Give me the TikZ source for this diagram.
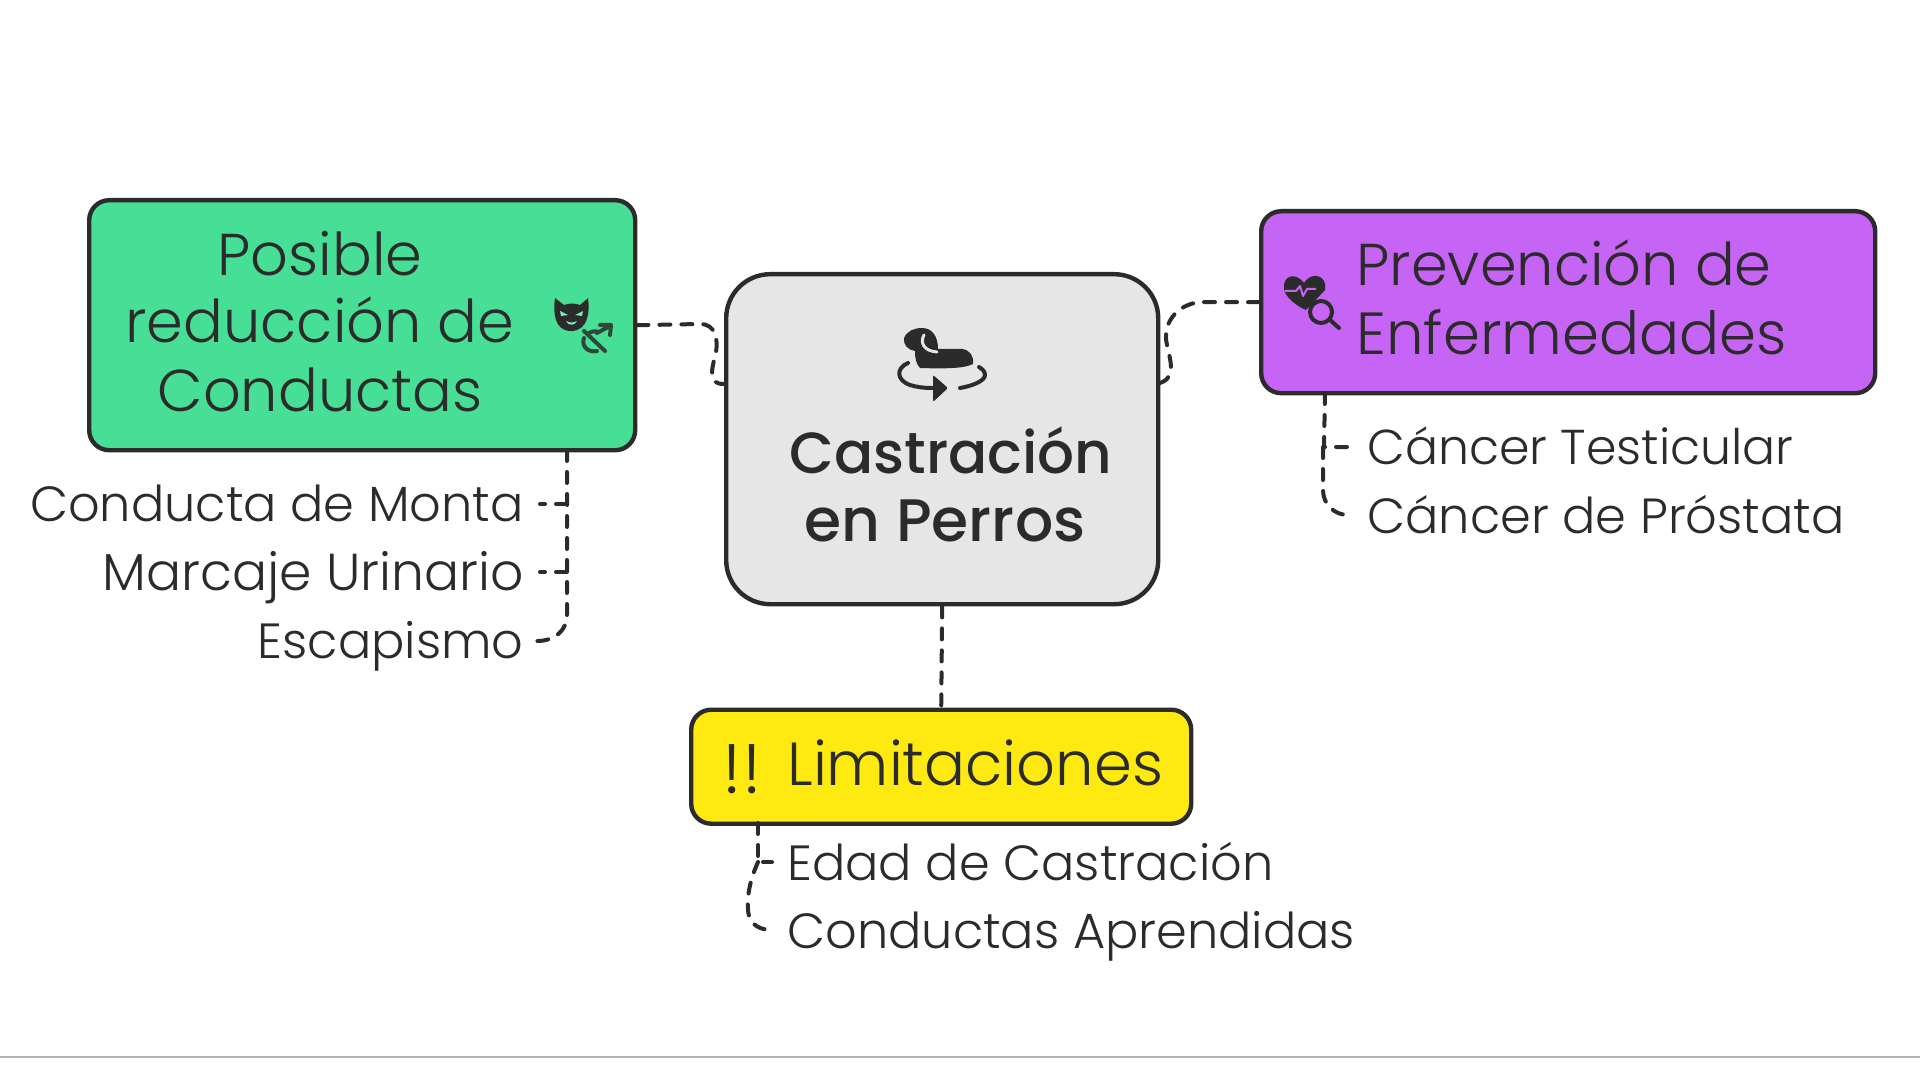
\documentclass[tikz,border=0pt]{standalone}
\usepackage{fontspec}
\setmainfont{Poppins}[UprightFont=* Light,BoldFont=* Medium]
\usetikzlibrary{calc}
\definecolor{ink}{HTML}{2B2B2B}
\definecolor{cgreen}{HTML}{47DF95}
\definecolor{cgrey}{HTML}{E6E6E6}
\definecolor{cpurple}{HTML}{C664F5}
\definecolor{cyellow}{HTML}{FEE911}
\tikzset{
  box/.style={draw=ink,line width=2.2pt,inner sep=0pt,anchor=north west},
  link/.style={draw=ink,line width=2pt,line cap=round,dash pattern=on 5.5pt off 5.5pt},
  big/.style={text=ink,font=\fontsize{29.5}{29.5}\selectfont,inner sep=0pt,anchor=base},
  small/.style={text=ink,font=\fontsize{24.7}{24.7}\selectfont,inner sep=0pt},
  iconline/.style={draw=ink,line width=2pt,line cap=round,line join=round},
}
\begin{document}
\begin{tikzpicture}[x=0.5pt,y=-0.5pt]
\useasboundingbox (0,0) rectangle (1920,1080);
\fill[white] (0,0) rectangle (1920,1080);
\draw[black!30,line width=0.6pt] (0,1057) -- (1920,1057);

\node[box,fill=cgreen,rounded corners=10pt,minimum width=273pt,minimum height=125pt] (green) at (87,198) {};
\node[box,fill=cgrey,rounded corners=22pt,minimum width=216pt,minimum height=165pt] (grey) at (724,272) {};
\node[box,fill=cpurple,rounded corners=10pt,minimum width=307pt,minimum height=91pt] (purple) at (1259,209) {};
\node[box,fill=cyellow,rounded corners=10pt,minimum width=250pt,minimum height=57pt] (yellow) at (689,707.5) {};

% texts
\node[big] (g1) at (320,275.5) {Posible};
\node[big] (g2) at (320,342.5) {reducción de};
\node[big] (g3) at (320,411) {Conductas};
\node[big,font=\fontsize{29}{29}\selectfont\bfseries] (c1) at (951,473) {Castración};
\node[big,font=\fontsize{30}{30}\selectfont\bfseries] (c2) at (945,541) {en Perros};
\node[big,anchor=base west] (p1) at (1356,286) {Prevención de};
\node[big,anchor=base west,font=\fontsize{29.7}{29.7}\selectfont] (p2) at (1356,355) {Enfermedades};
\node[big,anchor=base west,font=\fontsize{30.4}{30.4}\selectfont] (y1) at (787,785) {Limitaciones};
\node[big,font=\fontsize{35}{35}\selectfont] (y0) at (742,793) {!!};
\node[small,anchor=base east] (l1) at (524,521.5) {Conducta de Monta};
\node[small,anchor=base east,font=\fontsize{26}{26}\selectfont] (l2) at (524,590.5) {Marcaje Urinario};
\node[small,anchor=base east] (l3) at (524,658.5) {Escapismo};
\node[small,anchor=base west,font=\fontsize{24.5}{24.5}\selectfont] (r1) at (1367,464.5) {Cáncer Testicular};
\node[small,anchor=base west] (r2) at (1367,533) {Cáncer de Próstata};
\node[small,anchor=base west] (b1) at (787,880) {Edad de Castración};
\node[small,anchor=base west] (b2) at (787,948) {Conductas Aprendidas};

% connectors
\coordinate (ga) at (724,384);
\coordinate (gb) at (1156,384);
\coordinate (gtop) at (567,450);
\coordinate (ptop) at (1325,393);
\coordinate (ytop) at (758,823);
\coordinate (e1) at (540,504);
\coordinate (e2) at (540,572);
\coordinate (e3) at (537,641);
\coordinate (e4) at (1348,447);
\coordinate (e5) at (1348,515);
\coordinate (e6) at (772,862);
\coordinate (e7) at (772,930);
\draw[link] (green.east) -- (700,324) .. controls (716,324) and (718,340) .. (716,352) .. controls (711,372) and (708,384) .. (ga);
\draw[link] (purple.west) -- (1200,302) .. controls (1175,305) and (1162,325) .. (1167,345) .. controls (1170,360) and (1178,380) .. (gb);
\draw[link] (grey.south) -- (yellow.north);
\draw[link] (gtop) -- (567,615) .. controls (567,630) and (555,641) .. (e3);
\draw[link] (567,504) -- (e1);
\draw[link] (567,572) -- (e2);
\draw[link] (ptop) -- (1324,447) -- (e4);
\draw[link] (1323,447) -- (1323,490) .. controls (1323,505) and (1335,515) .. (e5);
\draw[link] (ytop) -- (758,862) -- (e6);
\draw[link] (758,862) .. controls (750,880) and (747,895) .. (748,910) .. controls (749,925) and (760,930) .. (e7);

% cat icon
\fill[ink] (555,298) -- (564,305) .. controls (570,303) and (574,303) .. (580,305) -- (588,298)
  .. controls (590,312) and (588,331) .. (571,331) .. controls (554,331) and (553,312) .. (555,298) -- cycle;
\fill[cgreen!70!white] (560,311) -- (568,315) -- (561,316) -- cycle;
\fill[cgreen!70!white] (583,311) -- (575,315) -- (582,316) -- cycle;
\fill[cgreen!70!white] (566,321) .. controls (570,323) and (573,323) .. (577,321) .. controls (575,326) and (568,326) .. (566,321) -- cycle;
% crossed male icon
\draw[iconline,draw=ink!85!cgreen] (584,338) .. controls (581,346) and (588,353) .. (597,351);
\draw[iconline,draw=ink!85!cgreen] (589,333) .. controls (592,331) and (596,331) .. (598,332);
\draw[iconline,draw=ink!85!cgreen] (584,331) -- (605,351);
\draw[iconline,draw=ink!85!cgreen] (597,333) -- (610,326) (600,325) -- (611,325) -- (610,335);

% dog icon
\fill[ink] (904,338) .. controls (907,331) and (914,328) .. (922,328) .. controls (932,328) and (938,336) .. (938,349)
  -- (950,349) -- (962,349) .. controls (970,350) and (974,356) .. (973,364) .. controls (965,368) and (950,369) .. (920,368)
  .. controls (916,364) and (915,358) .. (915,351) .. controls (908,350) and (903,345) .. (904,338) -- cycle;
\draw[cgrey,line width=1.5pt,line cap=round] (924,335) .. controls (920,342) and (923,351) .. (937,352);
\draw[iconline] (908,363) .. controls (896,368) and (896,380) .. (910,385) .. controls (916,387) and (924,388) .. (932,388);
\draw[iconline] (960,388) .. controls (972,386) and (985,381) .. (985,375) .. controls (985,371) and (982,369) .. (979,367);
\fill[ink,rounded corners=1pt] (933,375) -- (948,388) -- (933,402) -- cycle;

% heart + magnifier icon
\fill[ink] (1304,283) .. controls (1296,272) and (1283,275) .. (1284,288) .. controls (1284,296) and (1296,306) .. (1306,310)
  -- (1325,290) .. controls (1328,276) and (1312,270) .. (1304,283) -- cycle;
\draw[cpurple,line width=1pt,line join=round] (1285,291) -- (1296,291) -- (1300,286) -- (1303,296) -- (1307,289) -- (1316,289);
\draw[ink,line width=2pt,fill=cpurple] (1321,312) circle[radius=11];
\draw[iconline] (1330,320) -- (1339,328);
\end{tikzpicture}
\end{document}
